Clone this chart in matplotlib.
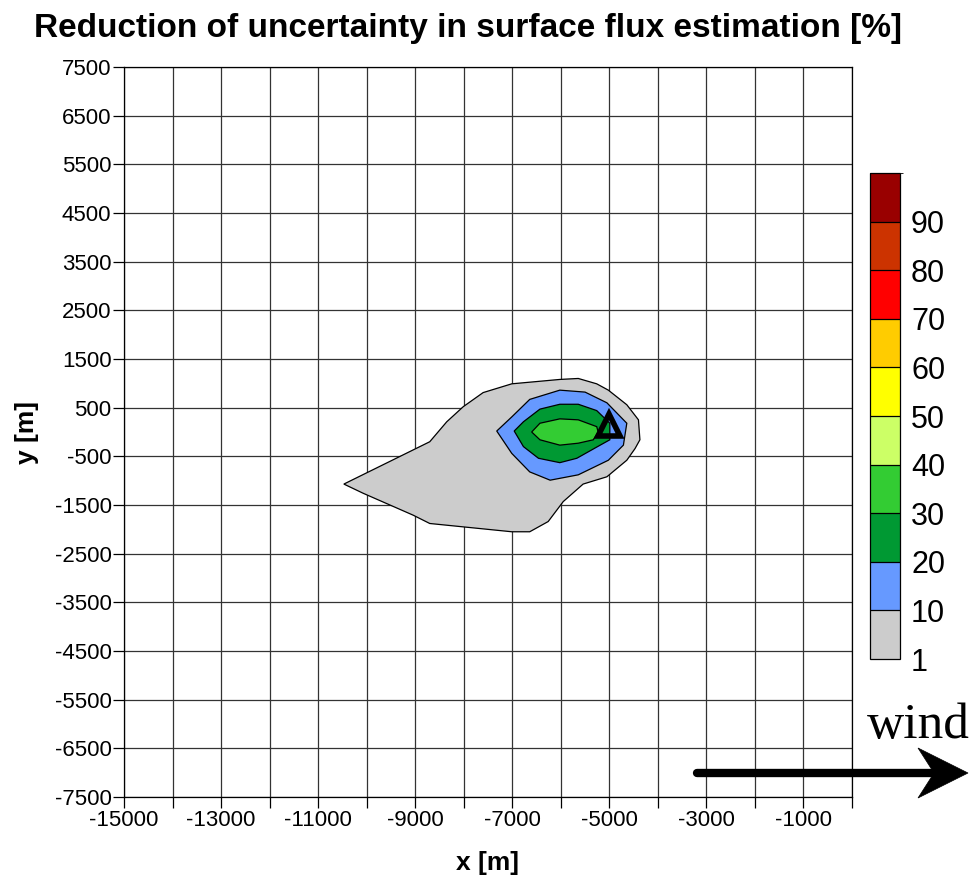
import matplotlib
matplotlib.use("Agg")
from matplotlib import pyplot as plt
from matplotlib.colors import ListedColormap, BoundaryNorm
from matplotlib.cm import ScalarMappable
from matplotlib.patches import Polygon
from matplotlib.lines import Line2D

plt.rcParams['font.family'] = ['Liberation Sans', 'DejaVu Sans']
plt.rcParams['axes.unicode_minus'] = False

# colour classes of the reduction [%]
levels = [1, 10, 20, 30, 40, 50, 60, 70, 80, 90, 100]
class_colors = ['#cccccc', '#6699ff', '#009933', '#33cc33', '#ccff66',
                '#ffff00', '#ffcc00', '#ff0000', '#cc3300', '#990000']

# contour outlines (x, y in metres), one per filled level
gray_x = [-10470, -8700, -8350, -8010, -7600, -7010, -6020, -5640, -5260, -5020,
          -4640, -4400, -4370, -4470, -4640, -5050, -5540, -5950, -6260, -6640,
          -7010, -8700, -9040, -10070]
gray_y = [-1070, -200, 210, 520, 810, 990, 1080, 1100, 990, 860,
          560, 250, -160, -340, -580, -920, -1070, -1430, -1840, -2050,
          -2050, -1880, -1710, -1260]

blue_x = [-7320, -7010, -6640, -6020, -5500, -5050, -4640, -4710, -5020, -5640,
          -6220, -6640, -7010]
blue_y = [20, 310, 670, 860, 820, 600, 180, -270, -580, -880,
          -990, -820, -440]

dgreen_x = [-6960, -6770, -6430, -6020, -5640, -5260, -4990, -4990, -5260, -5670,
            -6020, -6460, -6770]
dgreen_y = [20, 210, 470, 570, 570, 440, 180, -160, -310, -540,
            -630, -540, -300]

green_x = [-6600, -6430, -6020, -5640, -5260, -5230, -5330, -5640, -6020, -6430]
green_y = [0, 180, 270, 250, 110, 0, -160, -230, -270, -160]

station_x = [-5000]
station_y = [150]

fig = plt.figure(figsize=(9.76, 8.8), dpi=100)
ax = fig.add_axes([124 / 976, 1 - 797 / 880, 728 / 976, 730 / 880])

for xs, ys, c in [(gray_x, gray_y, class_colors[0]),
                  (blue_x, blue_y, class_colors[1]),
                  (dgreen_x, dgreen_y, class_colors[2]),
                  (green_x, green_y, class_colors[3])]:
    ax.fill(xs, ys, facecolor=c, edgecolor='black', lw=0.9, zorder=2)

ax.plot(station_x, station_y, marker='^', ms=16, mfc='none', mec='black',
        mew=4, ls='none', zorder=4)

ax.set_xlim(-15000, 0)
ax.set_ylim(-7500, 7500)
xt = list(range(-15000, 1, 1000))
ax.set_xticks(xt)
ax.set_xticklabels([str(v) if (v // 1000) % 2 == 1 else '' for v in xt])
yt = list(range(-7500, 7501, 1000))
ax.set_yticks(yt)
ax.tick_params(direction='out', length=8, width=0.9, labelsize=16, pad=1)
ax.grid(True, color='#333333', lw=0.9, zorder=1)
ax.set_axisbelow(True)
for s in ax.spines.values():
    s.set_linewidth(0.9)

fig.text(487 / 976, 1 - 863 / 880, 'x [m]', ha='center', va='center',
         fontsize=19, fontweight='bold')
fig.text(27 / 976, 1 - 432 / 880, 'y [m]', ha='center', va='center',
         rotation=90, fontsize=19, fontweight='bold')

fig.text(468 / 976, 0.968, 'Reduction of uncertainty in surface flux estimation [%]',
         ha='center', va='center', fontsize=24, fontweight='bold')

# colour bar
cax = fig.add_axes([870 / 976, 1 - 659 / 880, 30 / 976, 486 / 880])
cmap = ListedColormap(class_colors)
norm = BoundaryNorm(levels, cmap.N)
cb = fig.colorbar(ScalarMappable(norm=norm, cmap=cmap), cax=cax,
                  spacing='uniform', drawedges=True, ticks=levels[:-1])
cb.outline.set_linewidth(0.9)
cb.dividers.set_linewidth(0.9)
cax.tick_params(length=0, labelsize=22, pad=8)

# wind direction (figure pixels converted to fractions)
W, H = 976, 880
fig.text(0.994, 0.175, 'wind', family=['Liberation Serif', 'DejaVu Serif'],
         fontsize=37, ha='right', va='center')
fig.add_artist(Line2D([697 / W, 940 / W], [1 - 773 / H, 1 - 773 / H],
                      lw=6, color='black', solid_capstyle='round'))
head = [(968, 773), (918, 748), (934, 773), (918, 798)]
fig.add_artist(Polygon([(px / W, 1 - py / H) for px, py in head], closed=True,
                       facecolor='black', edgecolor='black', lw=0.5,
                       transform=fig.transFigure))

fig.savefig('out.png', dpi=100)
